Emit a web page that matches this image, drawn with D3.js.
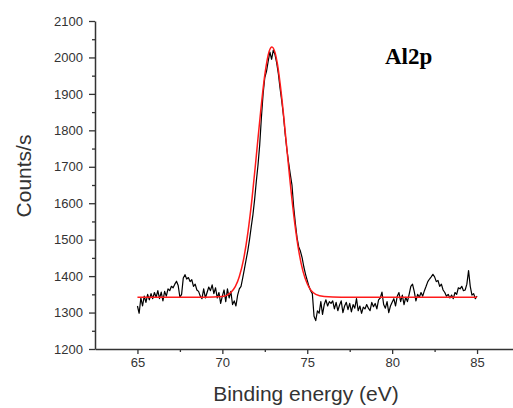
<!DOCTYPE html>
<html>
<head>
<meta charset="utf-8">
<script src="https://cdn.jsdelivr.net/npm/d3@7"></script>
<style>
  body { margin: 0; background: #fff; }
  .tick text { font-family: "Liberation Sans", Arial, sans-serif; fill: #333; }
</style>
</head>
<body>
<div id="container"></div>
<script>
const w = 513;
const h = 408;

// measured spectrum, 65 to 85 eV in 0.1 eV steps
const energyStart = 65;
const energyStep = 0.1;
const counts = [
  1318, 1298, 1340, 1318, 1345, 1328, 1350, 1335, 1352, 1338,
  1355, 1342, 1360, 1338, 1356, 1332, 1358, 1345, 1365, 1360,
  1372, 1368, 1378, 1386, 1374, 1342, 1350, 1395, 1404, 1392,
  1396, 1385, 1390, 1372, 1378, 1362, 1358, 1345, 1338, 1365,
  1340, 1355, 1370, 1360, 1376, 1352, 1368, 1340, 1355, 1325,
  1345, 1362, 1330, 1365, 1340, 1358, 1322, 1332, 1318, 1348,
  1365, 1372, 1395, 1420, 1445, 1470, 1500, 1535, 1568, 1610,
  1660, 1705, 1760, 1835, 1900, 1945, 1962, 1990, 2015, 1995,
  2020, 2008, 1985, 1955, 1915, 1880, 1840, 1790, 1748, 1712,
  1680, 1650, 1590, 1545, 1505, 1480, 1468, 1450, 1425, 1405,
  1388, 1372, 1360, 1352, 1290, 1278, 1305, 1298, 1330, 1295,
  1322, 1335, 1318, 1330, 1325, 1332, 1310, 1328, 1305, 1320,
  1332, 1300, 1318, 1328, 1308, 1325, 1302, 1322, 1312, 1338,
  1305, 1318, 1298, 1315, 1310, 1322, 1312, 1305, 1328, 1316,
  1325, 1310, 1335, 1340, 1356, 1322, 1312, 1330, 1300, 1318,
  1328, 1338, 1318, 1345, 1355, 1330, 1348, 1322, 1342, 1330,
  1350, 1372, 1378, 1358, 1332, 1350, 1342, 1355, 1345, 1360,
  1372, 1385, 1392, 1398, 1405, 1398, 1385, 1388, 1372, 1378,
  1362, 1355, 1345, 1350, 1340, 1348, 1338, 1355, 1350, 1368,
  1365, 1372, 1360, 1362, 1378, 1415, 1372, 1348, 1352, 1338,
  1345
];

// fitted peak (red)
const fitEnergy = [65, 69, 70, 70.5, 71, 71.25, 71.5, 71.75, 72, 72.25, 72.5, 72.75, 72.92,
                   73.1, 73.25, 73.5, 73.75, 74, 74.25, 74.5, 74.75, 75, 75.5, 76, 77, 85];
const fitCounts = [1342, 1342, 1344, 1355, 1399, 1446, 1518, 1614, 1730, 1849, 1952, 2016, 2029,
                   2014, 1980, 1889, 1773, 1654, 1550, 1469, 1413, 1379, 1350, 1344, 1342, 1342];

const xTicks = [65, 70, 75, 80, 85];
const yTicks = [1200, 1300, 1400, 1500, 1600, 1700, 1800, 1900, 2000, 2100];
const peakLabel = "Al2p";

const svg = d3.select("#container").append("svg")
              .attr("width", w).attr("height", h);

const scaleX = d3.scaleLinear().domain([62.5, 87.5]).range([95, 519.5]);
const scaleY = d3.scaleLinear().domain([1200, 2100]).range([349, 21]);

// minor ticks halfway between the major ones
const xMinor = [62.5].concat(xTicks.map((d) => d + 2.5)).filter((d) => d > 62.5 && d < 87.5);
const yMinor = yTicks.slice(0, -1).map((d) => d + 50);

const xAxis = d3.axisBottom(scaleX).tickValues(xTicks).tickFormat(d3.format("d"))
                .tickSize(5).tickPadding(4).tickSizeOuter(0);
const yAxis = d3.axisLeft(scaleY).tickValues(yTicks).tickFormat(d3.format("d"))
                .tickSize(6).tickPadding(6).tickSizeOuter(0);

svg.append("g")
   .attr("transform", "translate(0," + scaleY(1200) + ")")
   .call(d3.axisBottom(scaleX).tickValues(xMinor).tickSize(3).tickFormat("").tickSizeOuter(0))
   .call((g) => g.select(".domain").remove())
   .call((g) => g.selectAll("line").attr("stroke", "#333").attr("stroke-width", 1.3));
svg.append("g")
   .attr("transform", "translate(" + scaleX(62.5) + ",0)")
   .call(d3.axisLeft(scaleY).tickValues(yMinor).tickSize(3).tickFormat("").tickSizeOuter(0))
   .call((g) => g.select(".domain").remove())
   .call((g) => g.selectAll("line").attr("stroke", "#333").attr("stroke-width", 1.3));

const xAxisGroup = svg.append("g")
   .attr("id", "x-axis")
   .attr("transform", "translate(0," + scaleY(1200) + ")")
   .call(xAxis);
const yAxisGroup = svg.append("g")
   .attr("id", "y-axis")
   .attr("transform", "translate(" + scaleX(62.5) + ",0)")
   .call(yAxis);

[xAxisGroup, yAxisGroup].forEach((g) => {
  g.select(".domain").attr("stroke", "#333").attr("stroke-width", 1.5);
  g.selectAll(".tick line").attr("stroke", "#333").attr("stroke-width", 1.3);
  g.selectAll(".tick text").style("font-size", "13px");
});

// measured line
const line = d3.line()
  .x((d, i) => scaleX(energyStart + i * energyStep))
  .y((d) => scaleY(d));

svg.append("path")
   .datum(counts)
   .attr("d", line)
   .attr("fill", "none")
   .attr("stroke", "#000")
   .attr("stroke-width", 1.2)
   .attr("stroke-linejoin", "round");

const fitLine = d3.line()
  .x((d, i) => scaleX(fitEnergy[i]))
  .y((d) => scaleY(d))
  .curve(d3.curveMonotoneX);

svg.append("path")
   .datum(fitCounts)
   .attr("d", fitLine)
   .attr("fill", "none")
   .attr("stroke", "#ff1a1a")
   .attr("stroke-width", 1.5);

// labels
svg.append("text")
   .attr("x", 306)
   .attr("y", 401)
   .attr("text-anchor", "middle")
   .style("font-family", "'Liberation Sans', Arial, sans-serif")
   .style("font-size", "21px")
   .attr("fill", "#333")
   .text("Binding energy (eV)");

svg.append("text")
   .attr("transform", "translate(31,176) rotate(-90)")
   .attr("text-anchor", "middle")
   .style("font-family", "'Liberation Sans', Arial, sans-serif")
   .style("font-size", "21px")
   .attr("fill", "#333")
   .text("Counts/s");

svg.append("text")
   .attr("x", 385)
   .attr("y", 64)
   .style("font-family", "'Liberation Serif', 'Times New Roman', serif")
   .style("font-weight", "bold")
   .style("font-size", "23px")
   .attr("fill", "#000")
   .text(peakLabel);
</script>
</body>
</html>
